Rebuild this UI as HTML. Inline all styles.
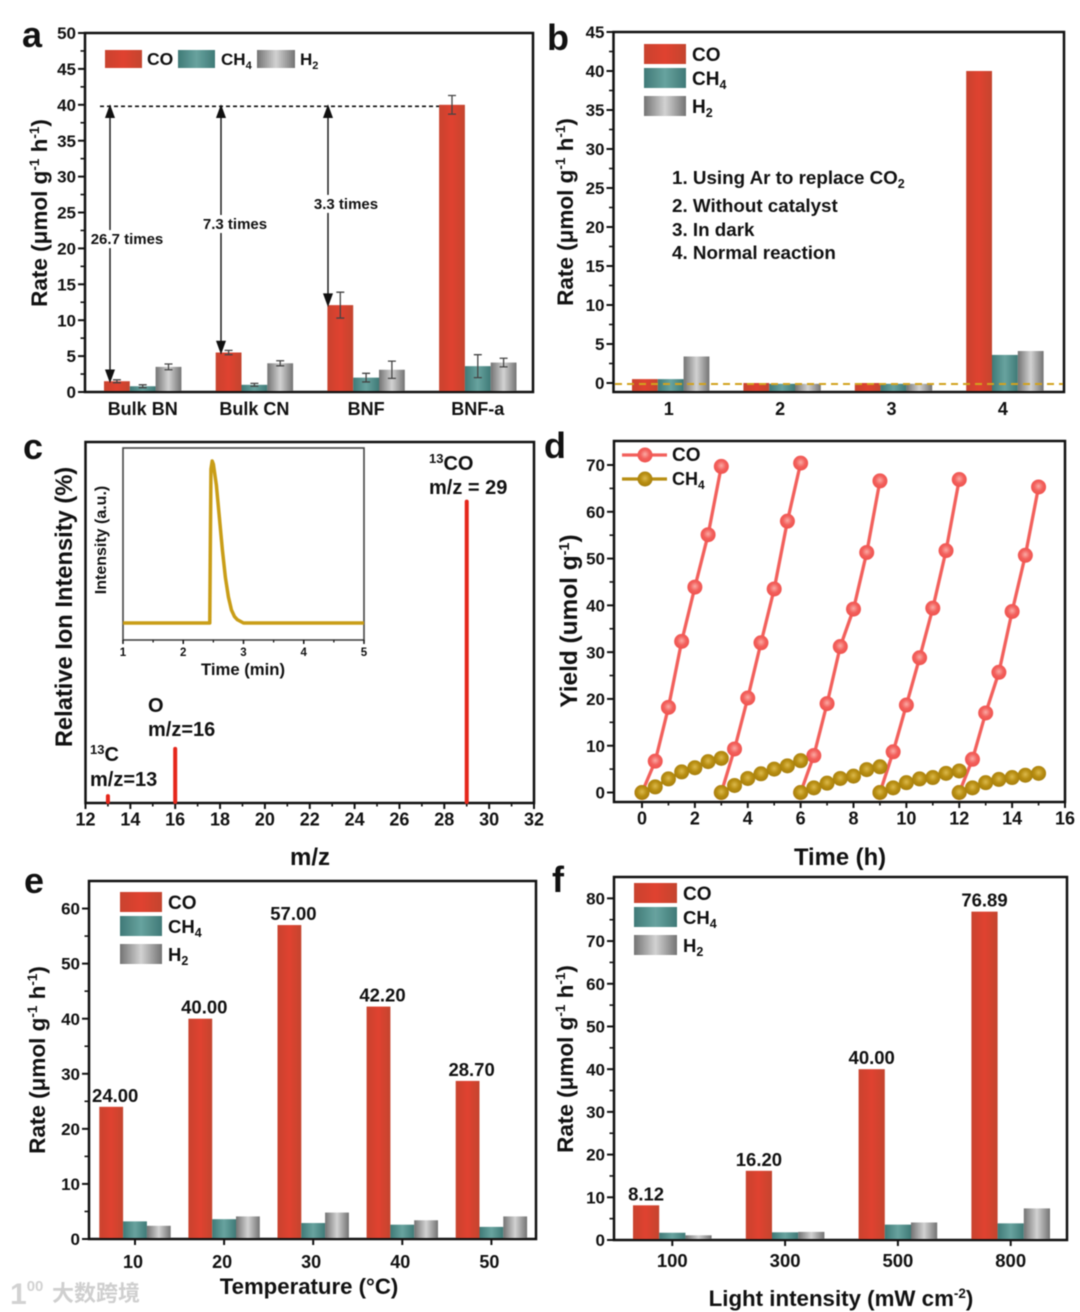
<!DOCTYPE html>
<html lang="en">
<head>
<meta charset="utf-8">
<title>Photocatalytic rate figure</title>
<style>
html,body{margin:0;padding:0;background:#fff;width:1080px;height:1312px;overflow:hidden}
svg{display:block;filter:blur(.55px)}
text{font-family:"Liberation Sans","Noto Sans CJK SC",sans-serif;font-weight:bold;fill:#111}
.frame{fill:none;stroke:#111;stroke-width:2.5}
</style>
</head>
<body>
<svg id="fig" width="1080" height="1312" viewBox="0 0 1080 1312" xmlns="http://www.w3.org/2000/svg">
<defs>
<linearGradient id="gCO" x1="0" x2="1" y1="0" y2="0"><stop offset="0" stop-color="#c9432f"/><stop offset=".5" stop-color="#e04230"/><stop offset="1" stop-color="#c4452f"/></linearGradient>
<linearGradient id="gCH4" x1="0" x2="1" y1="0" y2="0"><stop offset="0" stop-color="#3f7a77"/><stop offset=".5" stop-color="#68a39f"/><stop offset="1" stop-color="#3f7a77"/></linearGradient>
<linearGradient id="gH2" x1="0" x2="1" y1="0" y2="0"><stop offset="0" stop-color="#737373"/><stop offset=".5" stop-color="#d2d2d2"/><stop offset="1" stop-color="#737373"/></linearGradient>
<radialGradient id="mCO" cx=".5" cy=".45" r=".55"><stop offset="0" stop-color="#fbaaa4"/><stop offset=".55" stop-color="#f2605c"/><stop offset="1" stop-color="#f0524e"/></radialGradient>
<radialGradient id="mCH4" cx=".5" cy=".45" r=".55"><stop offset="0" stop-color="#dcb94c"/><stop offset=".55" stop-color="#b88e12"/><stop offset="1" stop-color="#a67e0c"/></radialGradient>
</defs>

<g id="panel-a">
  <text x="22" y="47" font-size="36">a</text>
  <rect class="frame" x="85" y="33" width="448" height="359"/>
  <text transform="translate(47,213) rotate(-90)" text-anchor="middle" font-size="22.5">Rate (μmol g<tspan font-size="13.5" dy="-8">-1</tspan><tspan dy="8"> h</tspan><tspan font-size="13.5" dy="-8">-1</tspan><tspan dy="8">)</tspan></text>
  <rect x="105" y="50" width="37" height="18" fill="url(#gCO)"/>
  <text x="147" y="65" font-size="17.5">CO</text>
  <rect x="178" y="50" width="37" height="18" fill="url(#gCH4)"/>
  <text x="221" y="65" font-size="17">CH<tspan font-size="11" dy="4">4</tspan></text>
  <rect x="257" y="50" width="38" height="18" fill="url(#gH2)"/>
  <text x="300" y="65" font-size="17">H<tspan font-size="11" dy="4">2</tspan></text>
</g>

<g id="panel-b">
  <text x="547" y="50" font-size="36">b</text>
  <rect class="frame" x="613.5" y="32" width="450.5" height="360"/>
  <text transform="translate(573,212) rotate(-90)" text-anchor="middle" font-size="22.5">Rate (μmol g<tspan font-size="13.5" dy="-8">-1</tspan><tspan dy="8"> h</tspan><tspan font-size="13.5" dy="-8">-1</tspan><tspan dy="8">)</tspan></text>
  <rect x="644" y="44" width="42" height="20" fill="url(#gCO)"/>
  <text x="692" y="61" font-size="19">CO</text>
  <rect x="644" y="68" width="42" height="20" fill="url(#gCH4)"/>
  <text x="692" y="85" font-size="19">CH<tspan font-size="12.5" dy="4">4</tspan></text>
  <rect x="644" y="96" width="42" height="20" fill="url(#gH2)"/>
  <text x="692" y="113" font-size="19">H<tspan font-size="12.5" dy="4">2</tspan></text>
  <text x="672" y="184" font-size="18.8">1. Using Ar to replace CO<tspan font-size="12.5" dy="4">2</tspan></text>
  <text x="672" y="212" font-size="18.8">2. Without catalyst</text>
  <text x="672" y="236" font-size="18.8">3. In dark</text>
  <text x="672" y="259" font-size="18.8">4. Normal reaction</text>
</g>

<g id="panel-c">
  <text x="23" y="459" font-size="36">c</text>
  <rect class="frame" x="85.5" y="442" width="448.5" height="361"/>
  <text transform="translate(72,607) rotate(-90)" text-anchor="middle" font-size="23.7">Relative Ion Intensity (%)</text>
  <text x="310" y="865" text-anchor="middle" font-size="24">m/z</text>
  <text x="429" y="470" font-size="20"><tspan font-size="13" dy="-7">13</tspan><tspan dy="7">CO</tspan></text>
  <text x="429" y="494" font-size="20">m/z = 29</text>
  <text x="148" y="712" font-size="20">O</text>
  <text x="148" y="736" font-size="20">m/z=16</text>
  <text x="90" y="761" font-size="20"><tspan font-size="13" dy="-7">13</tspan><tspan dy="7">C</tspan></text>
  <text x="90" y="786" font-size="20">m/z=13</text>
  <rect x="123" y="448" width="241" height="192" fill="none" stroke="#444" stroke-width="1.6"/>
  <text transform="translate(106,540) rotate(-90)" text-anchor="middle" font-size="16">Intensity (a.u.)</text>
  <text x="243" y="675" text-anchor="middle" font-size="16.7">Time (min)</text>
</g>

<g id="panel-d">
  <text x="544" y="458" font-size="36">d</text>
  <rect class="frame" x="614" y="441" width="451" height="361"/>
  <text transform="translate(577,621) rotate(-90)" text-anchor="middle" font-size="24.4">Yield (umol g<tspan font-size="14.5" dy="-8">-1</tspan><tspan dy="8">)</tspan></text>
  <text x="840" y="865" text-anchor="middle" font-size="23.8">Time (h)</text>
  <line x1="622" x2="667" y1="455" y2="455" stroke="#f2605c" stroke-width="3.2"/>
  <circle cx="645" cy="455" r="7.5" fill="url(#mCO)"/>
  <text x="672" y="461" font-size="19">CO</text>
  <line x1="622" x2="667" y1="479" y2="479" stroke="#b88e12" stroke-width="3.2"/>
  <circle cx="645" cy="479" r="7.5" fill="url(#mCH4)"/>
  <text x="672" y="485" font-size="18">CH<tspan font-size="12" dy="4">4</tspan></text>
</g>

<g id="panel-e">
  <text x="24" y="893" font-size="36">e</text>
  <rect class="frame" x="89" y="881" width="447" height="358"/>
  <text transform="translate(45,1060) rotate(-90)" text-anchor="middle" font-size="22.5">Rate (μmol g<tspan font-size="13.5" dy="-8">-1</tspan><tspan dy="8"> h</tspan><tspan font-size="13.5" dy="-8">-1</tspan><tspan dy="8">)</tspan></text>
  <text x="309" y="1294" text-anchor="middle" font-size="22.2">Temperature (°C)</text>
  <rect x="120" y="892" width="42" height="20" fill="url(#gCO)"/>
  <text x="168" y="909" font-size="19">CO</text>
  <rect x="120" y="916" width="42" height="20" fill="url(#gCH4)"/>
  <text x="168" y="933" font-size="18.5">CH<tspan font-size="12.5" dy="4">4</tspan></text>
  <rect x="120" y="944" width="42" height="20" fill="url(#gH2)"/>
  <text x="168" y="961" font-size="18.5">H<tspan font-size="12.5" dy="4">2</tspan></text>
</g>

<g id="panel-f">
  <text x="552" y="892" font-size="36">f</text>
  <rect class="frame" x="614" y="877" width="453" height="363"/>
  <text transform="translate(573,1059) rotate(-90)" text-anchor="middle" font-size="22.5">Rate (μmol g<tspan font-size="13.5" dy="-8">-1</tspan><tspan dy="8"> h</tspan><tspan font-size="13.5" dy="-8">-1</tspan><tspan dy="8">)</tspan></text>
  <text x="841" y="1306" text-anchor="middle" font-size="22.3">Light intensity (mW cm<tspan font-size="13.5" dy="-8">-2</tspan><tspan dy="8">)</tspan></text>
  <rect x="634" y="883" width="43" height="20" fill="url(#gCO)"/>
  <text x="683" y="900" font-size="19">CO</text>
  <rect x="634" y="907" width="43" height="20" fill="url(#gCH4)"/>
  <text x="683" y="924" font-size="18.5">CH<tspan font-size="12.5" dy="4">4</tspan></text>
  <rect x="634" y="935" width="43" height="20" fill="url(#gH2)"/>
  <text x="683" y="952" font-size="18.5">H<tspan font-size="12.5" dy="4">2</tspan></text>
</g>

<g id="watermark">
  <text x="10" y="1304" font-size="30" style="fill:#d2d2d2">1<tspan font-size="15" dy="-13">00</tspan></text>
  <text x="52" y="1301" font-size="22" style="fill:#cfcfcf">大数跨境</text>
</g>
</svg>

<script>
// Panel a
const aCategories = ['Bulk BN', 'Bulk CN', 'BNF', 'BNF-a'];
const aCO = [1.5, 5.5, 12.1, 40];
const aCH4 = [0.8, 1, 2, 3.6];
const aH2 = [3.5, 4, 3.1, 4.1];
const aCOErr = [0.2, 0.3, 1.8, 1.3];
const aCH4Err = [0.2, 0.2, 0.6, 1.6];
const aH2Err = [0.4, 0.35, 1.2, 0.6];
const aYTicks = [0, 5, 10, 15, 20, 25, 30, 35, 40, 45, 50];
const aFoldTargets = [1.5, 5.5, 12.1];
const aFoldLabels = ['26.7 times', '7.3 times', '3.3 times'];
const aFoldLabelValues = [21.3, 23.4, 26.2];
const aReference = 40;

// Panel b
const bCategories = ['1', '2', '3', '4'];
const bCO = [0.5, 0, 0, 40];
const bCH4 = [0.5, -0.1, -0.1, 3.6];
const bH2 = [3.4, -0.1, -0.1, 4.1];
const bYTicks = [0, 5, 10, 15, 20, 25, 30, 35, 40, 45];

// Panel c
const cMz = [13, 16, 29];
const cIntensity = [1.9, 15, 83.5];
const cXTicks = [12, 14, 16, 18, 20, 22, 24, 26, 28, 30, 32];
const insetTime = [1, 2.44, 2.45, 2.46, 2.48, 2.5, 2.55, 2.6, 2.65, 2.7, 2.75, 2.8, 2.85, 2.9, 3, 5];
const insetSignal = [0, 0, 0.5, 0.95, 1, 0.98, 0.85, 0.65, 0.45, 0.28, 0.16, 0.08, 0.04, 0.02, 0, 0];
const insetXTicks = [1, 2, 3, 4, 5];

// Panel d
const dCycleStarts = [0, 3, 6, 9, 12];
const dCycleHours = [0, 0.5, 1, 1.5, 2, 2.5, 3];
const dCO1 = [0, 6.7, 18.2, 32.3, 43.9, 55.1, 69.7];
const dCO2 = [0, 9.3, 20.2, 32, 43.5, 58, 70.4];
const dCO3 = [0, 7.9, 19, 31.2, 39.2, 51.3, 66.6];
const dCO4 = [0, 8.7, 18.7, 28.8, 39.4, 51.7, 66.9];
const dCO5 = [0, 7.1, 17, 25.7, 38.7, 50.7, 65.3];
const dCH41 = [0, 1.2, 2.9, 4.4, 5.3, 6.6, 7.3];
const dCH42 = [0, 1.5, 3, 4, 5, 5.7, 6.8];
const dCH43 = [0, 1, 2, 3, 3.5, 4.9, 5.5];
const dCH44 = [0, 1, 2.1, 2.9, 3.2, 4.1, 4.6];
const dCH45 = [0, 1, 2.1, 2.8, 3.2, 3.7, 4.1];
const dXTicks = [0, 2, 4, 6, 8, 10, 12, 14, 16];
const dYTicks = [0, 10, 20, 30, 40, 50, 60, 70];

// Panel e
const eCategories = ['10', '20', '30', '40', '50'];
const eCO = [24, 40, 57, 42.2, 28.7];
const eCH4 = [3.2, 3.6, 2.9, 2.6, 2.2];
const eH2 = [2.4, 4.1, 4.8, 3.4, 4.1];
const eValueLabels = ['24.00', '40.00', '57.00', '42.20', '28.70'];
const eYTicks = [0, 10, 20, 30, 40, 50, 60];

// Panel f
const fCategories = ['100', '300', '500', '800'];
const fCO = [8.12, 16.2, 40, 76.89];
const fCH4 = [1.7, 1.8, 3.6, 3.9];
const fH2 = [1.1, 1.9, 4.1, 7.4];
const fValueLabels = ['8.12', '16.20', '40.00', '76.89'];
const fYTicks = [0, 10, 20, 30, 40, 50, 60, 70, 80];

const NS = 'http://www.w3.org/2000/svg';
function add(parent, tag, attrs, content) {
  const node = document.createElementNS(NS, tag);
  for (const key in attrs) node.setAttribute(key, attrs[key]);
  if (content !== undefined) node.textContent = content;
  parent.appendChild(node);
  return node;
}
function linear(d0, d1, r0, r1) {
  return function (v) { return r0 + (v - d0) * (r1 - r0) / (d1 - d0); };
}
function drawTick(group, x1, y1, x2, y2, width, name) {
  const tick = add(group, 'line', { x1: x1, y1: y1, x2: x2, y2: y2, stroke: '#111', 'stroke-width': width });
  
  
}
function drawTickLabel(group, x, y, anchor, size, label, name) {
  const t = add(group, 'text', { x: x, y: y, 'text-anchor': anchor, 'font-size': size }, label);
  
  
}
function drawYAxis(group, ticks, sy, axisX, size, prefix) {
  const step = ticks[1] - ticks[0];
  ticks.forEach(function (v, i) {
    drawTick(group, axisX - 6, sy(v), axisX, sy(v), 2, prefix + '-y-tick');
    drawTickLabel(group, axisX - 8, sy(v) + size * 0.36, 'end', size, String(v), prefix + '-y-tick-label');
    if (i < ticks.length - 1) {
      drawTick(group, axisX - 3.5, sy(v + step / 2), axisX, sy(v + step / 2), 1.6, prefix + '-y-minor-tick');
    }
  });
}
function drawXAxis(group, ticks, sx, axisY, size, prefix) {
  const step = ticks[1] - ticks[0];
  ticks.forEach(function (v, i) {
    drawTick(group, sx(v), axisY, sx(v), axisY + 6, 2, prefix + '-x-tick');
    drawTickLabel(group, sx(v), axisY + 6 + size * 0.92, 'middle', size, String(v), prefix + '-x-tick-label');
    if (i < ticks.length - 1) {
      drawTick(group, sx(v + step / 2), axisY, sx(v + step / 2), axisY + 3.5, 1.6, prefix + '-x-minor-tick');
    }
  });
}
function drawBars(group, series, fills, names, bandX, barW, sy, base, prefix) {
  series.forEach(function (values, s) {
    values.forEach(function (v, i) {
      const top = Math.min(sy(v), base);
      const bar = add(group, 'rect', { x: bandX(i) + s * barW, y: top, width: barW, height: base - top, fill: fills[s] });
      
      
    });
  });
}
function drawErrors(group, series, errors, bandX, barW, sy) {
  series.forEach(function (values, s) {
    values.forEach(function (v, i) {
      const cx = bandX(i) + (s + 0.5) * barW;
      const hi = sy(v + errors[s][i]);
      const lo = sy(v - errors[s][i]);
      const bar = add(group, 'path', {
        d: 'M' + (cx - 4) + ' ' + hi + 'H' + (cx + 4) + 'M' + cx + ' ' + hi + 'V' + lo + 'M' + (cx - 4) + ' ' + lo + 'H' + (cx + 4),
        fill: 'none', stroke: '#444', 'stroke-width': 1.3 });
      
      
    });
  });
}
function drawCategoryLabels(group, cats, center, y, size, prefix) {
  cats.forEach(function (label, i) {
    drawTickLabel(group, center(i), y, 'middle', size, label, prefix + '-category-label');
  });
}
function drawValueLabels(group, labels, values, bandX, barW, shift, sy, size, prefix) {
  labels.forEach(function (label, i) {
    const t = add(group, 'text', { x: bandX(i) + barW / 2 + shift, y: sy(values[i]) - 5, 'text-anchor': 'middle', 'font-size': size }, label);
    
    
  });
}
const barFills = ['url(#gCO)', 'url(#gCH4)', 'url(#gH2)'];
const barNames = ['co', 'ch4', 'h2'];

// ---- panel a
(function () {
  const g = document.getElementById('panel-a');
  const sy = linear(0, 50, 392, 33);
  const bandX = function (i) { return 104 + i * 111.7; };
  const barW = 25.8;
  const arrowShift = [6, 5.3, 0.6];
  const labelShift = [17, 14, 18];
  const series = [aCO, aCH4, aH2];
  drawBars(g, series, barFills, barNames, bandX, barW, sy, 391, 'panel-a');
  drawErrors(g, series, [aCOErr, aCH4Err, aH2Err], bandX, barW, sy);
  drawYAxis(g, aYTicks, sy, 84, 17, 'panel-a');
  drawCategoryLabels(g, aCategories, function (i) { return bandX(i) + 1.5 * barW; }, 415, 18, 'panel-a');
  const refLine = add(g, 'line', { x1: 100, x2: bandX(3), y1: sy(aReference) + 1.5, y2: sy(aReference) + 1.5, stroke: '#111', 'stroke-width': 1.6, 'stroke-dasharray': '4 3' });
  
  
  aFoldTargets.forEach(function (v, i) {
    const ax = bandX(i) + arrowShift[i];
    const top = sy(aReference) + 1.5;
    const bottom = sy(v);
    const arrow = add(g, 'path', {
      d: 'M' + ax + ' ' + (top + 8) + 'V' + (bottom - 9) + 'M' + (ax - 4) + ' ' + (top + 11) + 'L' + ax + ' ' + top + 'L' + (ax + 4) + ' ' + (top + 11) + 'ZM' + (ax - 4) + ' ' + (bottom - 11) + 'L' + ax + ' ' + bottom + 'L' + (ax + 4) + ' ' + (bottom - 11) + 'Z',
      fill: '#111', stroke: '#111', 'stroke-width': 1.4 });
    
    
    const labelY = sy(aFoldLabelValues[i]);
    const gap = add(g, 'rect', { x: ax - 4, y: labelY - 9, width: 8, height: 18, fill: '#fff' });
    
    
    const t = add(g, 'text', { x: ax + labelShift[i], y: labelY + 5, 'text-anchor': 'middle', 'font-size': 15 }, aFoldLabels[i]);
    
    
  });
})();

// ---- panel b
(function () {
  const g = document.getElementById('panel-b');
  const sy = linear(0, 45, 383, 32);
  const bandX = function (i) { return 632 + i * 111.4; };
  const barW = 25.8;
  drawBars(g, [bCO, bCH4, bH2], barFills, barNames, bandX, barW, sy, 391, 'panel-b');
  drawYAxis(g, bYTicks, sy, 612.5, 17, 'panel-b');
  drawCategoryLabels(g, bCategories, function (i) { return bandX(i) + 1.5 * barW - 2; }, 415, 18, 'panel-b');
  const zero = add(g, 'line', { x1: 615, x2: 1063, y1: sy(0) + 1, y2: sy(0) + 1, stroke: '#d2a21e', 'stroke-width': 2, 'stroke-dasharray': '7 5' });
  
  
})();

// ---- panel c
(function () {
  const g = document.getElementById('panel-c');
  const sx = linear(12, 32, 85.5, 534);
  const sy = linear(0, 100, 803, 442);
  drawXAxis(g, cXTicks, sx, 803, 18, 'panel-c');
  cMz.forEach(function (mz, i) {
    const peak = add(g, 'line', { x1: sx(mz), x2: sx(mz), y1: 802, y2: sy(cIntensity[i]), stroke: '#e5261a', 'stroke-width': 4, 'stroke-linecap': 'round' });
    
    
  });
  const ix = linear(1, 5, 123, 364);
  const iy = linear(0, 1, 623, 461);
  insetXTicks.forEach(function (v, i) {
    drawTick(g, ix(v), 640, ix(v), 644, 1.5, 'inset-x-tick');
    drawTickLabel(g, ix(v), 656, 'middle', 11.5, String(v), 'inset-x-tick-label');
    if (i < insetXTicks.length - 1) {
      drawTick(g, ix(v + 0.5), 640, ix(v + 0.5), 642.5, 1.2, 'inset-x-minor-tick');
    }
  });
  const pts = insetTime.map(function (t, i) { return ix(t) + ',' + iy(insetSignal[i]); }).join(' ');
  const curve = add(g, 'polyline', { points: pts, fill: 'none', stroke: '#c99d17', 'stroke-width': 3.5, 'stroke-linejoin': 'round' });
  
  
})();

// ---- panel d
(function () {
  const g = document.getElementById('panel-d');
  const sx = linear(0, 16, 642, 1065);
  const sy = linear(0, 70, 792.5, 465);
  drawXAxis(g, dXTicks, sx, 802, 18, 'panel-d');
  drawYAxis(g, dYTicks, sy, 613, 17, 'panel-d');
  function drawCycles(cycles, lineColor, fill, label) {
    cycles.forEach(function (values, c) {
      const start = dCycleStarts[c];
      const pts = values.map(function (v, i) { return sx(start + dCycleHours[i]) + ',' + sy(v); }).join(' ');
      const line = add(g, 'polyline', { points: pts, fill: 'none', stroke: lineColor, 'stroke-width': 3.3 });
      
      
      values.forEach(function (v, i) {
        const dot = add(g, 'circle', { cx: sx(start + dCycleHours[i]), cy: sy(v), r: 7.5, fill: fill });
        
        
      });
    });
  }
  drawCycles([dCO1, dCO2, dCO3, dCO4, dCO5], '#f2605c', 'url(#mCO)', 'co');
  drawCycles([dCH41, dCH42, dCH43, dCH44, dCH45], '#b88e12', 'url(#mCH4)', 'ch4');
})();

// ---- panel e
(function () {
  const g = document.getElementById('panel-e');
  const sy = linear(0, 65, 1239, 881);
  const bandX = function (i) { return 99.3 + i * 89.1; };
  const barW = 23.8;
  drawBars(g, [eCO, eCH4, eH2], barFills, barNames, bandX, barW, sy, 1238, 'panel-e');
  drawYAxis(g, eYTicks, sy, 88, 17, 'panel-e');
  eCategories.forEach(function (label, i) {
    const cx = bandX(i) + 1.5 * barW;
    drawTick(g, cx, 1239, cx, 1245, 2, 'panel-e-x-tick');
    drawTickLabel(g, cx - 2, 1268, 'middle', 18, label, 'panel-e-category-label');
  });
  drawValueLabels(g, eValueLabels, eCO, bandX, barW, 4, sy, 18.5, 'panel-e');
})();

// ---- panel f
(function () {
  const g = document.getElementById('panel-f');
  const sy = linear(0, 85, 1240, 877);
  const bandX = function (i) { return 633 + i * 112.8; };
  const barW = 26.2;
  drawBars(g, [fCO, fCH4, fH2], barFills, barNames, bandX, barW, sy, 1239, 'panel-f');
  drawYAxis(g, fYTicks, sy, 613, 17, 'panel-f');
  fCategories.forEach(function (label, i) {
    const cx = bandX(i) + 1.5 * barW;
    drawTick(g, cx, 1240, cx, 1246, 2, 'panel-f-x-tick');
    drawTickLabel(g, cx, 1267, 'middle', 18.5, label, 'panel-f-category-label');
  });
  drawValueLabels(g, fValueLabels, fCO, bandX, barW, 0, sy, 18.5, 'panel-f');
})();
</script>
</body>
</html>
